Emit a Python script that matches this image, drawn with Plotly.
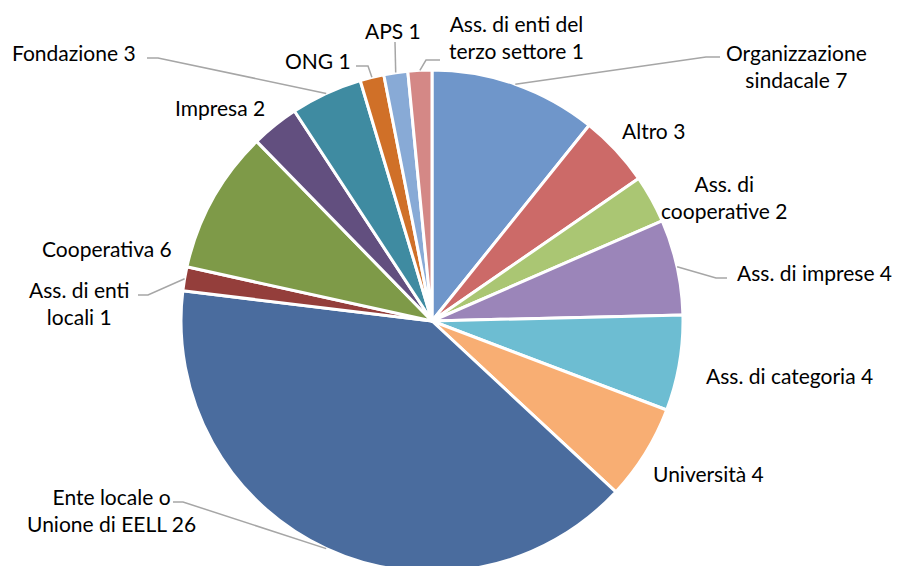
import math
import plotly.graph_objects as go

# ---- data ----
categories = [
    "Organizzazione sindacale", "Altro", "Ass. di cooperative", "Ass. di imprese",
    "Ass. di categoria", "Università", "Ente locale o Unione di EELL",
    "Ass. di enti locali", "Cooperativa", "Impresa", "Fondazione", "ONG", "APS",
    "Ass. di enti del terzo settore",
]
values = [7, 3, 2, 4, 4, 4, 26, 1, 6, 2, 3, 1, 1, 1]
label_texts = [
    "Organizzazione<br>sindacale 7", "Altro 3", "Ass. di<br>cooperative 2",
    "Ass. di imprese 4", "Ass. di categoria 4", "Università 4",
    "Ente locale o<br>Unione di EELL 26", "Ass. di enti<br>locali 1", "Cooperativa 6",
    "Impresa 2", "Fondazione 3", "ONG 1", "APS 1", "Ass. di enti del<br>terzo settore 1",
]

# ---- styles / layout ----
colors = ["#6F96CA", "#CC6A68", "#AAC673", "#9B85B9", "#6DBDD2", "#F8AE73",
          "#4A6C9E", "#943E3B", "#7E9A48", "#624F7F", "#3F8BA1", "#D07028",
          "#88AAD6", "#D48886"]
W, H = 898, 600
CX, CY, R = 432, 321, 251
# label centre positions (px) and optional leader elbow points (px)
label_pos = [(796, 66), (653, 130), (724, 197), (814, 272), (789, 375), (708, 473),
             (111, 510), (79, 303), (107, 248), (220, 107), (74, 52), (318, 60),
             (393, 30), (516, 37)]
leaders = {
    0: [(706, 57), (720, 57)],
    3: [(716, 278), (727, 278)],
    6: [(183, 502), (173, 502)],
    7: [(148, 295), (138, 295)],
    10: [(158, 58), (147, 58)],
    11: [(368, 66), (356, 66)],
    12: [(395, 42)],
    13: [(426, 60), (440, 60)],
}

fig = go.Figure()
fig.add_trace(go.Pie(
    labels=categories, values=values, sort=False, direction="clockwise", rotation=0,
    textinfo="none", hoverinfo="label+value",
    marker=dict(colors=colors, line=dict(color="white", width=3)),
    domain=dict(x=[(CX - R) / W, (CX + R) / W], y=[(H - CY - R) / H, (H - CY + R) / H]),
    showlegend=False,
))

total = sum(values)
cum = 0
shapes = []
annotations = []
for i, v in enumerate(values):
    mid = (cum + v / 2) / total * 2 * math.pi
    cum += v
    sx = CX + R * math.sin(mid)
    sy = CY - R * math.cos(mid)
    if i in leaders:
        pts = [(sx, sy)] + leaders[i]
        path = "M " + " L ".join(f"{x:.1f},{y:.1f}" for x, y in pts)
        shapes.append(dict(type="path", path=path, xref="x", yref="y",
                           line=dict(color="#A6A6A6", width=1.5), layer="above"))
    lx, ly = label_pos[i]
    annotations.append(dict(x=lx, y=ly, xref="x", yref="y", text=label_texts[i],
                            showarrow=False, xanchor="center", yanchor="middle",
                            align="center", font=dict(size=21, color="#000000")))

fig.update_layout(
    width=W, height=H, margin=dict(l=0, r=0, t=0, b=0),
    paper_bgcolor="white", plot_bgcolor="white",
    font=dict(family="Lato, 'Open Sans', sans-serif", size=21, color="#000"),
    xaxis=dict(range=[0, W], visible=False, fixedrange=True),
    yaxis=dict(range=[H, 0], visible=False, fixedrange=True),
    shapes=shapes, annotations=annotations,
)

fig.write_html("out.html", config={"displayModeBar": False},
               post_script="document.body.style.margin='0';document.body.style.overflow='hidden';")
